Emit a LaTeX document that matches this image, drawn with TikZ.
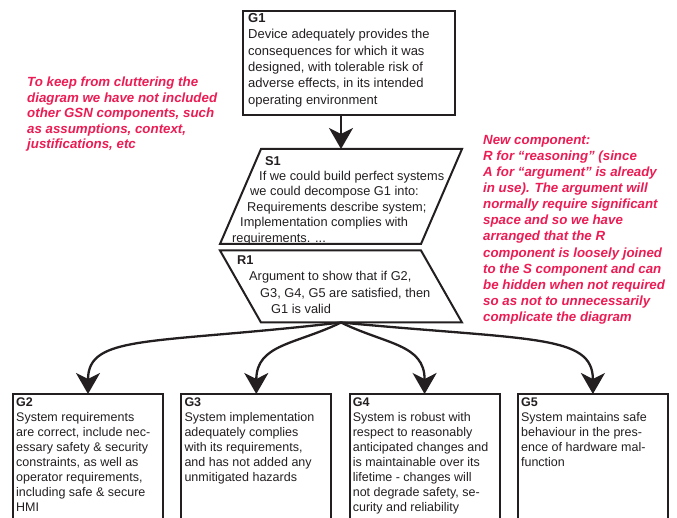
\documentclass[tikz,border=0pt]{standalone}
\usepackage{fontspec}
\setmainfont{Liberation Sans}
\usetikzlibrary{arrows.meta,positioning}

\definecolor{ink}{RGB}{35,31,32}
\definecolor{notered}{RGB}{236,28,84}

\begin{document}
\begin{tikzpicture}[x=1pt, y=-1pt]
	\tikzset{
	  GoalStyle/.style = { draw=ink, line width=2pt, outer sep=0pt, inner sep=0pt,
	                       minimum width=150pt, minimum height=142pt },
	  TopGoalStyle/.style = { draw=ink, line width=2.6pt, outer sep=0pt, inner sep=0pt,
	                          minimum width=212pt, minimum height=104pt },
	  StratStyle/.style = { outer sep=0pt, inner sep=0pt, minimum width=242pt },
	  StratLine/.style = { draw=ink, line width=2pt, line join=miter },
	  TextStyle/.style = { anchor=north west, align=left, inner sep=0pt, text=ink },
	  NoteStyle/.style = { anchor=north west, align=left, inner sep=0pt, text=notered,
	                       font=\fontsize{13.3}{15.5}\selectfont\bfseries\itshape },
	  EdgeStyle/.style = { draw=ink, line width=2.3pt,
	                       -{Stealth[length=21pt, width=24pt, inset=6pt]} } }
	\useasboundingbox (0,0) rectangle (677,518);
	\clip (0,0) rectangle (677,518);
%	\draw[help lines] (0,0) grid (677,518);
	\node[TopGoalStyle] (G1) at (349,63) {};
	\node[StratStyle, minimum height=95pt] (S1) at (341,196.5) {};
	\node[StratStyle, minimum height=72pt] (R1) at (341,286.5) {};
	\draw[StratLine] ([xshift=41pt]S1.north west) -- (S1.north east)
	  -- ([xshift=-41pt]S1.south east) -- (S1.south west) -- cycle;
	\draw[StratLine] (R1.north west) -- ([xshift=-41pt]R1.north east)
	  -- (R1.south east) -- ([xshift=41pt]R1.south west) -- cycle;
	\node[GoalStyle] (G2) at (88,465) {};
	\begin{scope}[node distance = 18.3pt]
	\node[GoalStyle, right=of G2] (G3) {};
	\node[GoalStyle, right=of G3] (G4) {};
	\node[GoalStyle, right=of G4] (G5) {};
	\end{scope}
	% texts
	\node[TextStyle, font=\fontsize{13}{16.4}\selectfont] (G1t) at (248,13)
	  {\textbf{G1}\\ Device adequately provides the\\ consequences for which it was\\
	   designed, with tolerable risk of\\ adverse effects, in its intended\\ operating environment};
	\node[TextStyle, font=\fontsize{12.8}{15.4}\selectfont] (S1t) at (232,156)
	  {\hspace*{33pt}\textbf{S1}\\ \hspace*{27pt}If we could build perfect systems\\
	   \hspace*{18pt}we could decompose G1 into:\\ \hspace*{15pt}Requirements describe system;\\
	   \hspace*{8pt}Implementation complies with\\ requirements. ...};
	\node[TextStyle, font=\fontsize{12.8}{16.4}\selectfont] (R1t) at (237,255.5)
	  {\textbf{R1}\\ \hspace*{12pt}Argument to show that if G2,\\
	   \hspace*{23pt}G3, G4, G5 are satisfied, then\\ \hspace*{34pt}G1 is valid};
	\tikzset{GText/.style = {TextStyle, font=\fontsize{12.5}{15}\selectfont}}
	\node[GText] (G2t) at ([xshift=3pt, yshift=-4pt]G2.north west)
	  {\textbf{G2}\\ System requirements\\ are correct, include nec-\\ essary safety \& security\\
	   constraints, as well as\\ operator requirements,\\ including safe \& secure\\ HMI};
	\node[GText] (G3t) at ([xshift=3pt, yshift=-4pt]G3.north west)
	  {\textbf{G3}\\ System implementation\\ adequately complies\\ with its requirements,\\
	   and has not added any\\ unmitigated hazards};
	\node[GText] (G4t) at ([xshift=3pt, yshift=-4pt]G4.north west)
	  {\textbf{G4}\\ System is robust with\\ respect to reasonably\\ anticipated changes and\\
	   is maintainable over its\\ lifetime - changes will\\ not degrade safety, se-\\ curity and reliability};
	\node[GText] (G5t) at ([xshift=3pt, yshift=-4pt]G5.north west)
	  {\textbf{G5}\\ System maintains safe\\ behaviour in the pres-\\ ence of hardware mal-\\ function};
	% notes
	\node[NoteStyle] (leftnote) at (27,77)
	  {To keep from cluttering the\\ diagram we have not included\\ other GSN components, such\\
	   as assumptions, context,\\ justifications, etc};
	\node[NoteStyle, font=\fontsize{13.3}{16.1}\selectfont\bfseries\itshape] (rightnote) at (483,135)
	  {New component:\\ R for “reasoning” (since\\ A for “argument” is already\\ in use). The argument will\\
	   normally require significant\\ space and so we have\\ arranged that the R\\ component is loosely joined\\
	   to the S component and can\\ be hidden when not required\\ so as not to unnecessarily\\ complicate the diagram};
	% edges
	\draw[EdgeStyle] (G1.south -| S1.center) -- (S1.north);
	\draw[EdgeStyle] (R1.south) .. controls +(-190,22) and +(0,-60) .. (G2.north);
	\draw[EdgeStyle] (R1.south) .. controls +(-45,22) and +(0,-50) .. (G3.north);
	\draw[EdgeStyle] (R1.south) .. controls +(45,22) and +(0,-50) .. (G4.north);
	\draw[EdgeStyle] (R1.south) .. controls +(190,18) and +(0,-60) .. (G5.north);
\end{tikzpicture}
\end{document}
